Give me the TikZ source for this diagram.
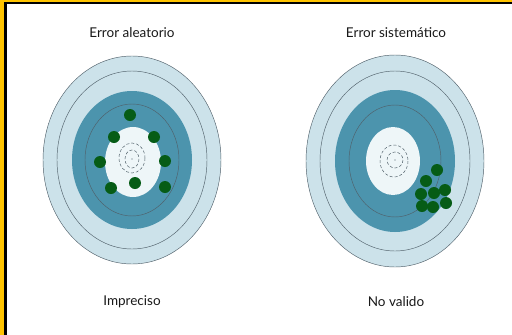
\documentclass[tikz,border=0pt]{standalone}
\usepackage{fontspec}
\setmainfont{Lato}
\definecolor{lightring}{RGB}{204,226,234}
\definecolor{darkring}{RGB}{76,148,173}
\definecolor{centre}{RGB}{238,246,248}
\definecolor{dotgreen}{RGB}{6,92,22}
\definecolor{frameyellow}{RGB}{255,196,0}
\definecolor{ringline}{RGB}{80,96,106}
\tikzset{
    ring/.style={draw=ringline, line width=0.45pt},
    smallring/.style={draw=ringline, line width=0.5pt, densely dashed},
    hit/.style={circle, fill=dotgreen, inner sep=0pt, minimum size=12pt},
    caption/.style={font=\fontsize{13.5}{16}\selectfont, text=black!90}
}
\begin{document}
\begin{tikzpicture}[x=1pt, y=-1pt]
    \useasboundingbox (0,0) rectangle (512,335);
    \fill[white] (0,0) rectangle (512,335);

    % Frame (left and top only)
    \fill[frameyellow] (0,0) rectangle (4,335);
    \fill[frameyellow] (0,0) rectangle (512,1.5);
    \fill[black] (4,1.5) rectangle (6.5,335);
    \fill[black] (4,1.5) rectangle (512,3.5);

    % Left target
    \fill[lightring, ring] (132,160) ellipse [x radius=89, y radius=104];
    \draw[ring] (132,160) ellipse [x radius=75, y radius=89];
    \fill[darkring] (132,160) ellipse [x radius=60, y radius=69];
    \draw[ring] (132,160) ellipse [x radius=47, y radius=56];
    \fill[centre] (133,162) ellipse [x radius=28, y radius=35];
    \draw[smallring] (132,158) ellipse [x radius=13, y radius=15];
    \draw[smallring] (132,159) ellipse [x radius=7, y radius=9];
    \fill[ringline] (132,159) circle (0.6);

    % Right target
    \fill[lightring, ring] (395,161) ellipse [x radius=89, y radius=106];
    \draw[ring] (395,161) ellipse [x radius=75, y radius=90];
    \fill[darkring] (395,161) ellipse [x radius=60, y radius=71];
    \draw[ring] (395,161) ellipse [x radius=46, y radius=56];
    \fill[centre] (393,161) ellipse [x radius=27, y radius=34];
    \draw[smallring] (394,161) ellipse [x radius=14, y radius=16];
    \draw[smallring] (395,160) ellipse [x radius=8, y radius=8];
    \fill[ringline] (395,160) circle (0.6);

    % Hits scattered round the centre
    \foreach \x/\y [count=\i] in {130/115, 114/137, 154/137, 100/162, 165/161, 135/183, 111/188, 165/187}
        \node[hit] (a\i) at (\x,\y) {};

    % Hits grouped off the centre
    \foreach \x/\y [count=\i] in {437/170, 426/181, 421/194, 434/193, 445/190, 422/206, 433/207, 446/203}
        \node[hit] (s\i) at (\x,\y) {};

    % Captions
    \node[caption] (tleft) at (132,33) {Error aleatorio};
    \node[caption] (tright) at (396,33) {Error sistemático};
    \node[caption] (bleft) at (132,302) {Impreciso};
    \node[caption] (bright) at (396,302) {No valido};
\end{tikzpicture}
\end{document}
